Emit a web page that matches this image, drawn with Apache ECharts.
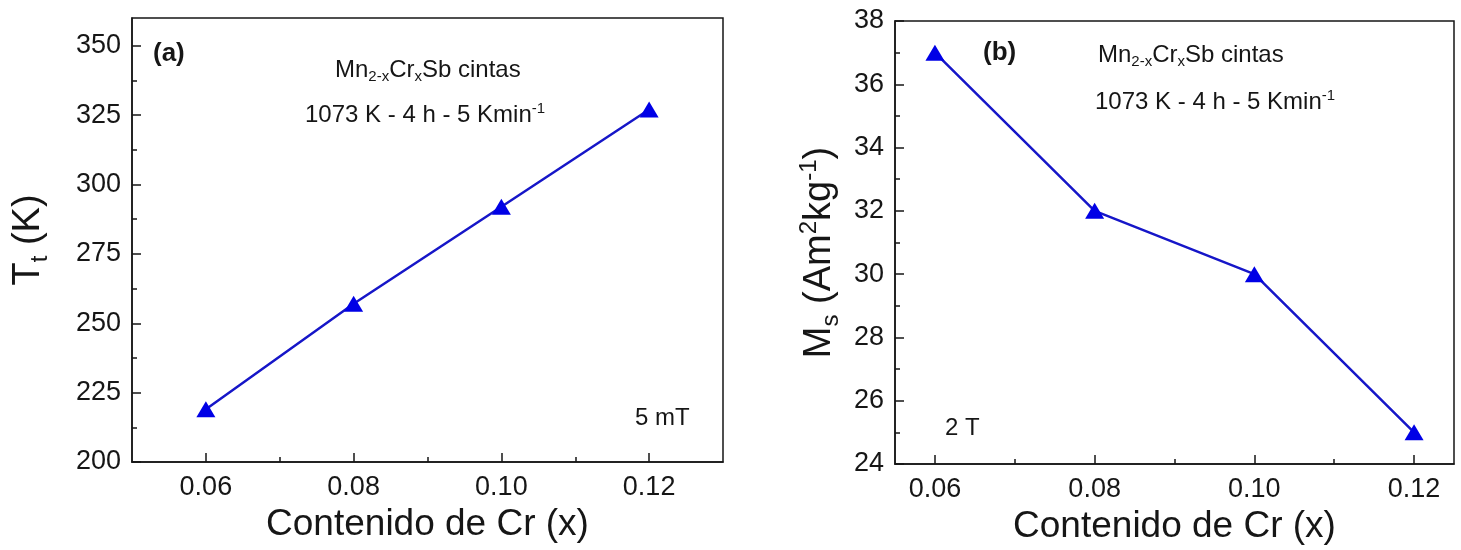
<!DOCTYPE html>
<html>
<head>
<meta charset="utf-8">
<script src="https://cdn.jsdelivr.net/npm/echarts@6/dist/echarts.min.js"></script>
<style>
  html, body { margin: 0; padding: 0; background: #fff; }
  #chart { width: 1461px; height: 550px; }
</style>
</head>
<body>
<div id="chart"></div>
<script>
// Cr content (x) in Mn(2-x)Cr(x)Sb ribbons
const crContent = [0.06, 0.08, 0.10, 0.12];
// (a) transition temperature T_t (K), measured at 5 mT
const transitionTemp = [219, 257, 292, 327];
// (b) saturation magnetisation M_s (Am2/kg), measured at 2 T
const saturationMag = [37, 32, 30, 25];

// tick positions
const xMajorTicks = [0.06, 0.08, 0.10, 0.12];
const xMinorTicks = [0.07, 0.09, 0.11];
const tMajorTicks = [200, 225, 250, 275, 300, 325, 350];
const tMinorTicks = [212.5, 237.5, 262.5, 287.5, 312.5, 337.5];
const mMajorTicks = [24, 26, 28, 30, 32, 34, 36, 38];
const mMinorTicks = [25, 27, 29, 31, 33, 35, 37];

const FONT = 'Liberation Sans, Arial, sans-serif';
const INK = '#161616';
const LINE_BLUE = '#1616c8';
const MARK_BLUE = '#0000e6';

const nameRich = {
  b: { fontSize: 38, fontFamily: FONT, color: INK, lineHeight: 46 },
  s: { fontSize: 24, fontFamily: FONT, color: INK, lineHeight: 22, verticalAlign: 'bottom' },
  p: { fontSize: 24, fontFamily: FONT, color: INK, lineHeight: 22, verticalAlign: 'top' }
};

function xAxes(gridIndex, min, max) {
  return [
    {
      type: 'value', gridIndex, min, max, position: 'bottom',
      name: 'Contenido de Cr (x)', nameLocation: 'middle', nameGap: 44,
      nameTextStyle: { fontSize: 37, fontFamily: FONT, color: INK },
      axisLine: { show: true, onZero: false, lineStyle: { color: INK, width: 1.5 } },
      axisTick: { show: true, inside: true, length: 9, customValues: xMajorTicks, lineStyle: { color: INK, width: 1.5 } },
      axisLabel: { customValues: xMajorTicks, margin: 12, fontSize: 27, fontFamily: FONT, color: INK,
        formatter: v => Number(v).toFixed(2) },
      splitLine: { show: false }
    },
    {
      type: 'value', gridIndex, min, max, position: 'bottom',
      axisLine: { show: false },
      axisTick: { show: true, inside: true, length: 5, customValues: xMinorTicks, lineStyle: { color: INK, width: 1.5 } },
      axisLabel: { show: false },
      splitLine: { show: false }
    }
  ];
}

function yAxes(gridIndex, min, max, major, minor, nameText, nameGap, namePadding) {
  return [
    {
      type: 'value', gridIndex, min, max, position: 'left',
      name: nameText, nameLocation: 'middle', nameGap, nameRotate: 90,
      nameTextStyle: { rich: nameRich, padding: namePadding },
      axisLine: { show: true, onZero: false, lineStyle: { color: INK, width: 1.5 } },
      axisTick: { show: true, inside: true, length: 9, customValues: major, lineStyle: { color: INK, width: 1.5 } },
      axisLabel: { customValues: major, margin: 11, fontSize: 27, fontFamily: FONT, color: INK },
      splitLine: { show: false }
    },
    {
      type: 'value', gridIndex, min, max, position: 'left',
      axisLine: { show: false },
      axisTick: { show: true, inside: true, length: 5, customValues: minor, lineStyle: { color: INK, width: 1.5 } },
      axisLabel: { show: false },
      splitLine: { show: false }
    }
  ];
}

function pairs(xs, ys) { return xs.map((x, i) => [x, ys[i]]); }

function lineSeries(idx, values) {
  return {
    type: 'line',
    xAxisIndex: idx * 2, yAxisIndex: idx * 2,
    data: pairs(crContent, values),
    symbol: 'triangle', symbolSize: [19, 16],
    itemStyle: { color: MARK_BLUE },
    lineStyle: { color: LINE_BLUE, width: 2.5 },
    z: 3
  };
}

// annotation text styles
const noteRich = {
  n: { fontSize: 24, fontFamily: FONT, fill: INK, lineHeight: 28 },
  s: { fontSize: 15, fontFamily: FONT, fill: INK, lineHeight: 15, verticalAlign: 'bottom' },
  p: { fontSize: 15, fontFamily: FONT, fill: INK, lineHeight: 15, verticalAlign: 'top' },
  bold: { fontSize: 26, fontFamily: FONT, fontWeight: 'bold', fill: INK, lineHeight: 30 }
};

function note(x, y, text) {
  return { type: 'text', x, y, z: 10,
    style: { text, rich: noteRich, align: 'left', verticalAlign: 'middle' } };
}

const compText = '{n|Mn}{s|2-x}{n|Cr}{s|x}{n|Sb cintas}';
const treatText = '{n|1073 K - 4 h - 5 Kmin}{p|-1}';

const chart = echarts.init(document.getElementById('chart'), null, { renderer: 'canvas' });
chart.setOption({
  backgroundColor: '#ffffff',
  animation: false,
  grid: [
    { left: 132, top: 18, width: 591, height: 444, show: true, borderColor: INK, borderWidth: 1.5, backgroundColor: 'transparent' },
    { left: 895, top: 21, width: 559, height: 450, show: true, borderColor: INK, borderWidth: 1.5, backgroundColor: 'transparent' }
  ],
  xAxis: [...xAxes(0, 0.05, 0.13), ...xAxes(1, 0.055, 0.125)],
  yAxis: [
    ...yAxes(0, 200, 360, tMajorTicks, tMinorTicks, '{b|T}{s|t}{b| (K)}', 80, 0),
    ...yAxes(1, 24, 38, mMajorTicks, mMinorTicks, '{b|M}{s|s}{b| (Am}{p|2}{b|kg}{p|-1}{b|)}', 52, [0, 20, 0, 0])
  ],
  series: [lineSeries(0, transitionTemp), lineSeries(1, saturationMag)],
  graphic: [
    note(153, 54, '{bold|(a)}'),
    note(335, 70, compText),
    note(305, 115, treatText),
    note(635, 418, '{n|5 mT}'),
    note(983, 53, '{bold|(b)}'),
    note(1098, 55, compText),
    note(1095, 102, treatText),
    note(945, 428, '{n|2 T}')
  ]
});
</script>
</body>
</html>
